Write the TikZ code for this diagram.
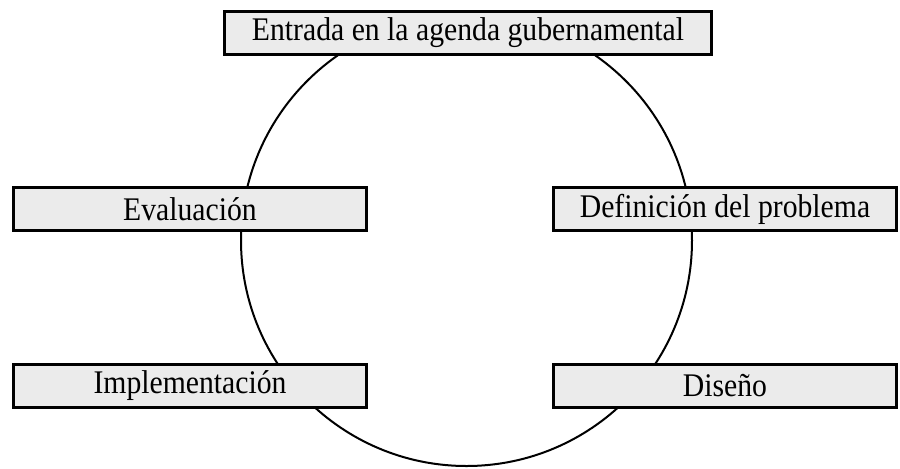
\documentclass[tikz,border=0pt]{standalone}
\usepackage{fontspec}
\setmainfont{Liberation Serif}
\begin{document}
\begin{tikzpicture}[x=0.5pt,y=-0.5pt,
  stagebox/.style={draw=black, line width=1.5pt, fill=boxgray, inner sep=0pt,
    minimum height=21.5pt, font=\fontsize{16.5pt}{18pt}\selectfont},
  ring/.style={draw=black, line width=1pt}]
\definecolor{boxgray}{HTML}{EBEBEB}
\useasboundingbox (0,0) rectangle (900,468);
\draw[ring] (466.5,240.5) circle [radius=112.75pt];
\node[stagebox, minimum width=243.5pt] (agenda) at (468,33) {\scalebox{0.9}[1]{Entrada en la agenda gubernamental}};
\node[stagebox, minimum width=176.5pt] (eval) at (190,209) {\scalebox{0.9}[1]{Evaluación}};
\node[stagebox, minimum width=171.5pt] (defin) at (725,209) {\scalebox{0.9}[1]{Definición del problema}};
\node[stagebox, minimum width=176.5pt] (impl) at (190,386) {\scalebox{0.9}[1]{Implementación}};
\node[stagebox, minimum width=171.5pt] (dise) at (725,386) {\scalebox{0.9}[1]{Diseño}};
\end{tikzpicture}
\end{document}
